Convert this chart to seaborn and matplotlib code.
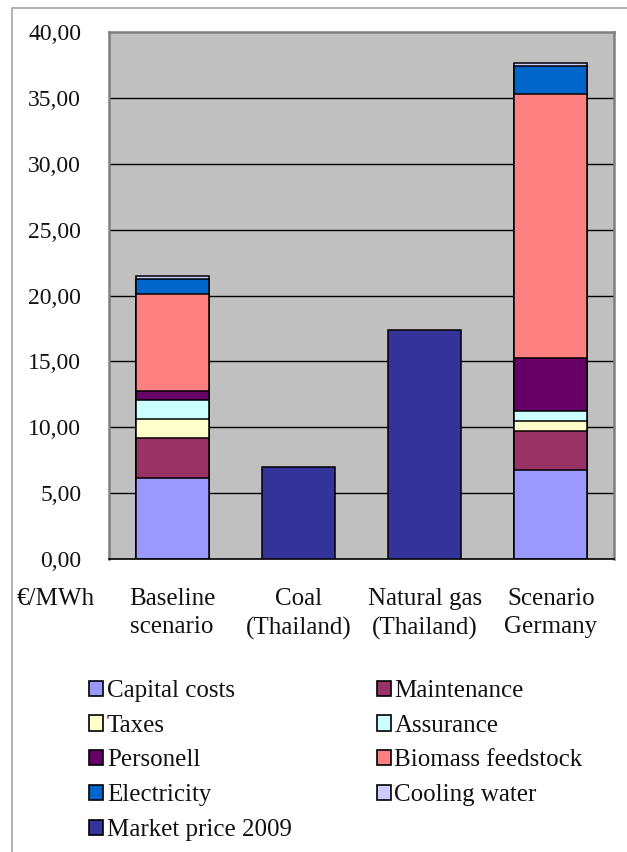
import matplotlib
matplotlib.use("Agg")
import matplotlib.pyplot as plt
from matplotlib.lines import Line2D
from matplotlib.patches import Patch
from matplotlib.ticker import FuncFormatter
import pandas as pd
import seaborn as sns

# Cost structure, EUR per MWh
categories = ["Baseline\nscenario", "Coal\n(Thailand)", "Natural gas\n(Thailand)", "Scenario\nGermany"]
components = ["Capital costs", "Maintenance", "Taxes", "Assurance", "Personell",
              "Biomass feedstock", "Electricity", "Cooling water"]
capital_costs = [6.16, 0.0, 0.0, 6.78]
maintenance = [3.05, 0.0, 0.0, 2.96]
taxes = [1.44, 0.0, 0.0, 0.76]
assurance = [1.40, 0.0, 0.0, 0.73]
personell = [0.68, 0.0, 0.0, 4.00]
biomass_feedstock = [7.37, 0.0, 0.0, 20.09]
electricity = [1.13, 0.0, 0.0, 2.12]
cooling_water = [0.25, 0.0, 0.0, 0.23]
market_price_2009 = [0.0, 7.00, 17.37, 0.0]
y_ticks = [0, 5, 10, 15, 20, 25, 30, 35, 40]
unit_label = "€/MWh"

colors = {
    "Capital costs": "#9999FF",
    "Maintenance": "#993366",
    "Taxes": "#FFFFCC",
    "Assurance": "#CCFFFF",
    "Personell": "#660066",
    "Biomass feedstock": "#FF8080",
    "Electricity": "#0066CC",
    "Cooling water": "#CCCCFF",
    "Market price 2009": "#333399",
}

series = [capital_costs, maintenance, taxes, assurance, personell,
          biomass_feedstock, electricity, cooling_water]
df = pd.DataFrame({name: vals for name, vals in zip(components, series)})
cum = df[components].cumsum(axis=1)
cum["category"] = categories

sns.set_theme(style="white")
plt.rcParams["font.family"] = ["Liberation Serif", "DejaVu Serif"]
FS = 18
TXT = "#111111"

fig = plt.figure(figsize=(6.27, 8.52), dpi=100)
ax = fig.add_axes([109 / 627, 1 - 559 / 852, (614 - 109) / 627, (559 - 32) / 852])
ax.set_facecolor("#C0C0C0")

bar_kw = dict(width=0.58, edgecolor="black", linewidth=1.1, order=categories,
              errorbar=None, ax=ax, zorder=3, saturation=1)

# stacked segments: draw cumulative totals from the top layer down
for name in reversed(components):
    sns.barplot(data=cum, x="category", y=name, color=colors[name], **bar_kw)

mp = pd.DataFrame({"category": categories, "Market price 2009": market_price_2009})
sns.barplot(data=mp, x="category", y="Market price 2009",
            color=colors["Market price 2009"], **bar_kw)

ax.set_ylim(0, 40)
ax.set_xlim(-0.5, 3.5)
ax.set_yticks(y_ticks)
ax.yaxis.set_major_formatter(FuncFormatter(lambda v, p: f"{v:.2f}".replace(".", ",")))
ax.set_xlabel("")
ax.set_ylabel("")
for y in y_ticks[1:-1]:
    ax.axhline(y, color="black", linewidth=1.0, zorder=1)
ax.tick_params(axis="y", length=0, pad=20, labelsize=17, labelcolor=TXT)
ax.tick_params(axis="x", length=0, pad=21, labelsize=FS, labelcolor=TXT)
for lab in ax.get_xticklabels():
    lab.set_linespacing(1.36)

for side in ["left", "top", "right"]:
    ax.spines[side].set_color("#808080")
    ax.spines[side].set_linewidth(1.8)
ax.spines["bottom"].set_color("black")
ax.spines["bottom"].set_linewidth(1.2)

fig.text(95 / 627, 1 - 599 / 852, unit_label, ha="right", va="center",
         fontsize=FS, color=TXT)

# outer frame (left and top edges)
fig.add_artist(Line2D([12 / 627, 12 / 627], [0, 1 - 8 / 852], color="#A6A6A6", linewidth=1.2))
fig.add_artist(Line2D([12 / 627, 1], [1 - 8 / 852, 1 - 8 / 852], color="#A6A6A6", linewidth=1.2))

# legend, filled row by row in two columns
legend_order = ["Capital costs", "Taxes", "Personell", "Electricity", "Market price 2009",
                "Maintenance", "Assurance", "Biomass feedstock", "Cooling water"]
handles = [Patch(facecolor=colors[n], edgecolor="black", linewidth=1.2) for n in legend_order]
fig.legend(handles, legend_order, loc="upper left",
           bbox_to_anchor=(89 / 627, 1 - 680 / 852), ncol=2, frameon=False,
           fontsize=FS, handlelength=0.56, handleheight=0.56, handletextpad=0.15,
           labelspacing=0.51, columnspacing=3.4, borderaxespad=0, borderpad=0,
           labelcolor=TXT)

fig.savefig("out.png", dpi=100)
